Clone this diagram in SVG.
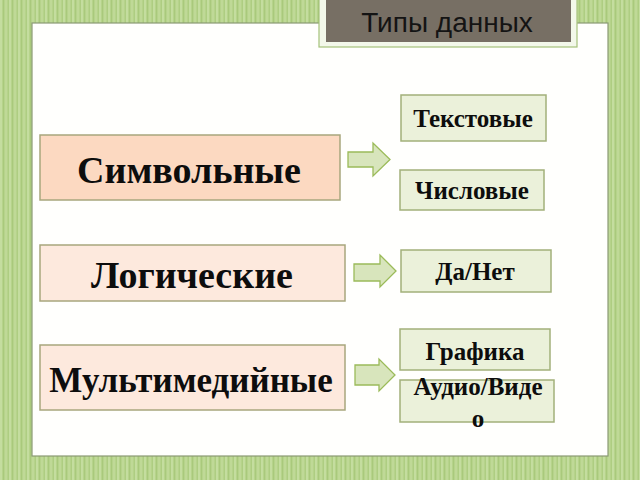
<svg xmlns="http://www.w3.org/2000/svg" width="640" height="480" viewBox="0 0 640 480">
<style>
.bg{fill:url(#stripes)}
.panel{fill:#fffffd;stroke:#8a9a74;stroke-width:1.2}
.cat{stroke:#a8a67c;stroke-width:1.5}
.sub{fill:#ebf1da;stroke:#a2b07a;stroke-width:1.5}
.arr{fill:#d8e5bc;stroke:#9bbb59;stroke-width:1.3}
.big{font-family:"Liberation Serif","Times New Roman",serif;font-weight:bold;font-size:38px;fill:#0d0d0d;text-anchor:middle}
.small{font-family:"Liberation Serif","Times New Roman",serif;font-weight:bold;font-size:25px;fill:#0d0d0d;text-anchor:middle}
.title{font-family:"Liberation Sans",Arial,sans-serif;font-size:28px;fill:#141414;text-anchor:middle}
</style>
<defs>
<pattern id="stripes" width="9" height="480" patternUnits="userSpaceOnUse">
<rect width="9" height="480" fill="#b6d38b"/>
<rect x="0" width="2" height="480" fill="#c4dd9f"/>
<rect x="3" width="1" height="480" fill="#a9c97c"/>
<rect x="5" width="2" height="480" fill="#bfd997"/>
<rect x="8" width="1" height="480" fill="#aecd82"/>
</pattern>
</defs>
<rect class="bg" x="0" y="0" width="640" height="480"/>
<rect class="panel" x="32" y="23" width="576" height="433"/>
<g id="title">
<rect x="319" y="-4" width="258" height="51" fill="#f3f8ea" stroke="#a5c27a" stroke-width="1.2"/>
<rect x="326" y="-4" width="245" height="46" fill="#776f64"/>
<text class="title" x="447" y="32">Типы данных</text>
</g>
<g id="connectors">
<path class="arr" d="M348,152 H373 V143 L390,159.5 L373,176 V167 H348 Z"/>
<path class="arr" d="M354,264 H380 V255 L396,271 L380,287 V281 H354 Z"/>
<path class="arr" d="M355,365 H379 V359 L395,375 L379,391 V385 H355 Z"/>
</g>
<g id="n-symbol">
<rect class="cat" x="40" y="135" width="300" height="65" fill="#fcd9c1"/>
<text class="big" x="189" y="183">Символьные</text>
</g>
<g id="n-logic">
<rect class="cat" x="40" y="245" width="305" height="56" fill="#fde9dd"/>
<text class="big" x="192" y="288">Логические</text>
</g>
<g id="n-media">
<rect class="cat" x="40" y="345" width="305" height="65" fill="#fde9dd"/>
<text class="big" x="191" y="392" style="font-size:35px">Мультимедийные</text>
</g>
<g id="n-text">
<rect class="sub" x="401" y="95" width="145" height="46"/>
<text class="small" x="473" y="127">Текстовые</text>
</g>
<g id="n-num">
<rect class="sub" x="400" y="170" width="144" height="40"/>
<text class="small" x="472" y="199">Числовые</text>
</g>
<g id="n-bool">
<rect class="sub" x="401" y="250" width="150" height="42"/>
<text class="small" x="475" y="280">Да/Нет</text>
</g>
<g id="n-graph">
<rect class="sub" x="400" y="329" width="150" height="41"/>
<text class="small" x="475" y="360">Графика</text>
</g>
<g id="n-av">
<rect class="sub" x="400" y="380" width="154" height="42"/>
<text class="small" x="478" y="395">Аудио/Виде</text>
<text class="small" x="478" y="427">о</text>
</g>
</svg>
